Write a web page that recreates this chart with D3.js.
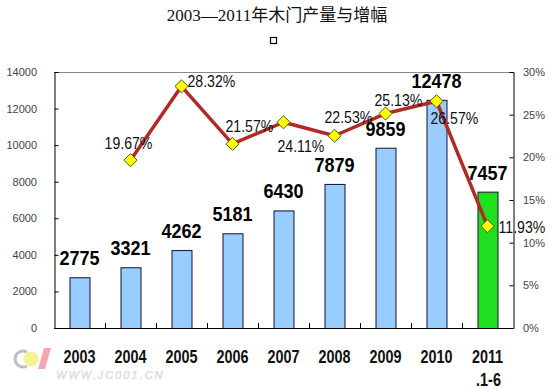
<!DOCTYPE html>
<html><head><meta charset="utf-8">
<script src="https://cdn.jsdelivr.net/npm/d3@7/dist/d3.min.js"></script>
<style>html,body{margin:0;padding:0;background:#fff;}svg{display:block;}</style>
</head><body>
<svg id="chart" width="554" height="389"></svg>
<script>
// ---- data ----
const categories = ["2003","2004","2005","2006","2007","2008","2009","2010","2011"];
const categorySub = ["","","","","","","","",".1-6"];
const output = [2775,3321,4262,5181,6430,7879,9859,12478,7457];
const growth = [null,19.67,28.32,21.57,24.11,22.53,25.13,26.57,11.93];
const leftTicks = [0,2000,4000,6000,8000,10000,12000,14000];
const rightTicks = [0,5,10,15,20,25,30];
const title = "2003—2011年木门产量与增幅";

// ---- label placement (layout only) ----
const pctLabelOffset = [null,[-2,-11,"middle"],[6,1,"start"],[-7,-12,"start"],[-6,30,"start"],[-10,-13,"start"],[-11,-8,"start"],[-6,23,"start"],[11,7,"start"]];

const svg = d3.select("#chart");
const L = 54, R = 513, T = 72, B = 328;

const x = d3.scaleBand().domain(categories).range([L, R]).paddingInner(0).paddingOuter(0);
const y = d3.scaleLinear().domain([0, 14000]).range([B, T]);
const y2 = d3.scaleLinear().domain([0, 30]).range([B, T]);
const barW = 20;

// title
svg.append("text").attr("x", 277).attr("y", 21).attr("text-anchor", "middle")
  .attr("font-family", "'Liberation Serif','Noto Sans CJK SC',serif").attr("font-size", 17)
  .attr("fill", "#111").text(title);
svg.append("rect").attr("x", 270.5).attr("y", 37.5).attr("width", 6).attr("height", 6)
  .attr("fill", "none").attr("stroke", "#000").attr("stroke-width", 1.2);

// top border
svg.append("line").attr("x1", L).attr("x2", R).attr("y1", T + 0.5).attr("y2", T + 0.5)
  .attr("stroke", "#888").attr("stroke-width", 1);

// bars
svg.append("g").selectAll("rect").data(output).join("rect")
  .attr("x", (d, i) => x(categories[i]) + x.bandwidth() / 2 - barW / 2 + 0.5)
  .attr("y", d => y(d) + 0.5)
  .attr("width", barW)
  .attr("height", d => B - y(d))
  .attr("fill", (d, i) => i === categories.length - 1 ? "#1fe01f" : "#99ccff")
  .attr("stroke", "#111133").attr("stroke-width", 1);

// left axis
const gL = svg.append("g").attr("transform", `translate(${L + 0.5},0)`)
  .call(d3.axisRight(y).tickValues(leftTicks).tickSize(4).tickFormat(""));
gL.select(".domain").attr("stroke", "#000");
gL.selectAll(".tick line").attr("stroke", "#000");
svg.append("g").selectAll("text").data(leftTicks).join("text")
  .attr("x", 37).attr("y", d => y(d) + 4).attr("text-anchor", "end")
  .attr("font-family", "'Liberation Sans',Arial,sans-serif").attr("font-size", 11)
  .attr("fill", "#444").text(d => d);

// right axis
const gR = svg.append("g").attr("transform", `translate(${R + 0.5},0)`)
  .call(d3.axisLeft(y2).tickValues(rightTicks).tickSize(4).tickFormat(""));
gR.select(".domain").attr("stroke", "#000");
gR.selectAll(".tick line").attr("stroke", "#000");
svg.append("g").selectAll("text").data(rightTicks).join("text")
  .attr("x", 523).attr("y", d => y2(d) + 4).attr("text-anchor", "start")
  .attr("font-family", "'Liberation Sans',Arial,sans-serif").attr("font-size", 11)
  .attr("fill", "#444").text(d => d + "%");

// bottom axis
svg.append("line").attr("x1", L).attr("x2", R + 1).attr("y1", B + 0.5).attr("y2", B + 0.5)
  .attr("stroke", "#000");
svg.append("g").selectAll("line").data(categories.slice(1)).join("line")
  .attr("x1", d => x(d) + 0.5).attr("x2", d => x(d) + 0.5)
  .attr("y1", B).attr("y2", B - 5).attr("stroke", "#000");

// category labels
const catG = svg.append("g");
categories.forEach((c, i) => {
  const cx = x(c) + x.bandwidth() / 2;
  catG.append("text").attr("transform", `translate(${cx},363) scale(0.8,1)`)
    .attr("text-anchor", "middle").attr("font-family", "'Liberation Sans',Arial,sans-serif")
    .attr("font-weight", "bold").attr("font-size", 18).attr("fill", "#111").text(c);
  if (categorySub[i]) {
    catG.append("text").attr("transform", `translate(${cx + 1},386) scale(0.8,1)`)
      .attr("text-anchor", "middle").attr("font-family", "'Liberation Sans',Arial,sans-serif")
      .attr("font-weight", "bold").attr("font-size", 18).attr("fill", "#111").text(categorySub[i]);
  }
});

// bar value labels
svg.append("g").selectAll("text").data(output).join("text")
  .attr("transform", (d, i) => `translate(${x(categories[i]) + x.bandwidth() / 2},${y(d) - 12}) scale(0.9,1)`)
  .attr("text-anchor", "middle").attr("font-family", "'Liberation Sans',Arial,sans-serif")
  .attr("font-weight", "bold").attr("font-size", 20).attr("fill", "#000").text(d => d);

// growth line
const pts = growth.map((g, i) => g == null ? null : [x(categories[i]) + x.bandwidth() / 2, y2(g), g, i]).filter(Boolean);
svg.append("path").datum(pts)
  .attr("d", d3.line().x(d => d[0]).y(d => d[1]))
  .attr("fill", "none").attr("stroke", "#b02a26").attr("stroke-width", 3.5).attr("stroke-linejoin", "round");

// markers
const diamond = d3.symbol().type(d3.symbolDiamond2).size(110);
svg.append("g").selectAll("path").data(pts).join("path")
  .attr("transform", d => `translate(${d[0]},${d[1]})`)
  .attr("d", diamond).attr("fill", "#ffff00").attr("stroke", "#555522").attr("stroke-width", 1);

// percent labels
svg.append("g").selectAll("text").data(pts).join("text")
  .attr("transform", d => {
    const o = pctLabelOffset[d[3]];
    return `translate(${d[0] + o[0]},${d[1] + o[1]}) scale(0.83,1)`;
  })
  .attr("text-anchor", d => pctLabelOffset[d[3]][2])
  .attr("font-family", "'Liberation Sans',Arial,sans-serif").attr("font-size", 17)
  .attr("fill", "#111").text(d => d[2].toFixed(2) + "%");

// watermark
const wm = svg.append("g").attr("opacity", 0.75);
wm.append("path").attr("d", "M27,352 A8,8 0 1 0 27,366").attr("fill", "none").attr("stroke", "#aaa").attr("stroke-width", 3);
wm.append("circle").attr("cx", 31).attr("cy", 359).attr("r", 7.5).attr("fill", "#f5ee70");
wm.append("path").attr("d", "M44,348 L51,348 L45,369 L38,369 Z").attr("fill", "#f08a9a");
svg.append("text").attr("x", 56).attr("y", 379).attr("font-family", "'Liberation Sans',Arial,sans-serif")
  .attr("font-size", 11).attr("font-style", "italic").attr("fill", "#fff").attr("stroke", "#ddd").attr("stroke-width", 0.7)
  .attr("letter-spacing", 2).text("WWW.JC001.CN");
</script>
</body></html>
